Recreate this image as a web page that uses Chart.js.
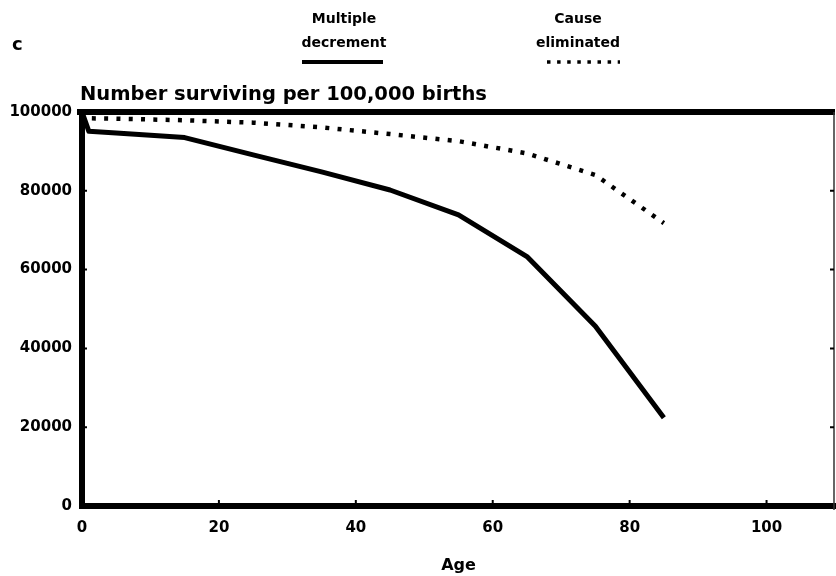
<!DOCTYPE html>
<html>
<head>
    <title>Number surviving per 100,000 births</title>
    <style type="text/css">
        body {
            margin: 0;
            background: #fff;
        }

        #chartContainer {
            width: 836px;
            height: 576px;
            position: relative;
        }
    </style>
</head>
<body>
    <div id="chartContainer">
        <canvas id="survivalChart"></canvas>
    </div>
    <script src="https://cdn.jsdelivr.net/npm/chart.js@4.4.1/dist/chart.umd.min.js"></script>
    <script>
        // ages of the life table rows
        var ages = [0, 1, 5, 15, 25, 35, 45, 55, 65, 75, 85];
        // survivors, all causes acting
        var multipleDecrement = [100000, 95100, 94700, 93500, 89100, 84800, 80200, 73900, 63300, 45600, 22400];
        // survivors, one cause taken out
        var causeEliminated = [100000, 98400, 98300, 97900, 97300, 96100, 94400, 92600, 89500, 84000, 71800];

        var xTicks = [0, 20, 40, 60, 80, 100];
        var yTicks = [0, 20000, 40000, 60000, 80000, 100000];

        var panelLetter = 'c';
        var yTitle = 'Number surviving per 100,000 births';
        var xTitle = 'Age';
        var legendSolid = ['Multiple', 'decrement'];
        var legendDotted = ['Cause', 'eliminated'];

        var FONT = "'DejaVu Sans', sans-serif";
        var INK = '#000';

        function toPoints(values) {
            return ages.map((age, i) => ({ x: age, y: values[i] }));
        }

        // frame, inner ticks, legend and headings
        var decorPlugin = {
            id: 'decor',
            afterDraw(chart) {
                var ctx = chart.ctx;
                var area = chart.chartArea;
                var xs = chart.scales.x;
                var ys = chart.scales.y;
                ctx.save();

                // thick top rule
                ctx.strokeStyle = INK;
                ctx.lineWidth = 6;
                ctx.beginPath();
                ctx.moveTo(area.left - 5, area.top);
                ctx.lineTo(area.right, area.top);
                ctx.stroke();

                // thin right rule
                ctx.lineWidth = 1.5;
                ctx.strokeStyle = '#333';
                ctx.beginPath();
                ctx.moveTo(area.right - 1, area.top);
                ctx.lineTo(area.right - 1, area.bottom + 4);
                ctx.stroke();

                // inner ticks
                ctx.strokeStyle = INK;
                ctx.lineWidth = 2;
                yTicks.forEach(v => {
                    if (v === 0 || v === 100000) return;
                    var py = ys.getPixelForValue(v);
                    ctx.beginPath();
                    ctx.moveTo(area.left, py);
                    ctx.lineTo(area.left + 5, py);
                    ctx.moveTo(area.right - 1, py);
                    ctx.lineTo(area.right - 5, py);
                    ctx.stroke();
                });
                xTicks.forEach(v => {
                    if (v === 0) return;
                    var px = xs.getPixelForValue(v);
                    ctx.beginPath();
                    ctx.moveTo(px, area.bottom);
                    ctx.lineTo(px, area.bottom - 6);
                    ctx.stroke();
                });

                ctx.fillStyle = INK;
                ctx.textBaseline = 'middle';

                // panel letter
                ctx.textAlign = 'left';
                ctx.font = 'bold 18px ' + FONT;
                ctx.fillText(panelLetter, 12, 45);

                // y heading
                ctx.textBaseline = 'alphabetic';
                ctx.font = 'bold 19.5px ' + FONT;
                ctx.fillText(yTitle, 80, 100);

                // legend
                ctx.textBaseline = 'middle';
                ctx.textAlign = 'center';
                ctx.font = 'bold 14px ' + FONT;
                ctx.fillText(legendSolid[0], 344, 19);
                ctx.fillText(legendSolid[1], 344, 43);
                ctx.fillText(legendDotted[0], 578, 19);
                ctx.fillText(legendDotted[1], 578, 43);

                ctx.lineWidth = 4;
                ctx.setLineDash([]);
                ctx.beginPath();
                ctx.moveTo(302, 62);
                ctx.lineTo(383, 62);
                ctx.stroke();

                ctx.lineWidth = 3.5;
                ctx.setLineDash([3.5, 6.6]);
                ctx.beginPath();
                ctx.moveTo(547, 62);
                ctx.lineTo(620, 62);
                ctx.stroke();

                ctx.restore();
            }
        };

        function createSurvivalChart() {
            var ctx = document.getElementById('survivalChart').getContext('2d');
            new Chart(ctx, {
                type: 'line',
                data: {
                    datasets: [
                        {
                            label: legendSolid.join(' '),
                            data: toPoints(multipleDecrement),
                            borderColor: INK,
                            borderWidth: 5,
                            borderJoinStyle: 'round',
                            pointRadius: 0,
                            tension: 0,
                            fill: false
                        },
                        {
                            label: legendDotted.join(' '),
                            data: toPoints(causeEliminated),
                            borderColor: INK,
                            borderWidth: 4.5,
                            borderDash: [4, 8.3],
                            borderCapStyle: 'butt',
                            pointRadius: 0,
                            tension: 0,
                            fill: false
                        }
                    ]
                },
                options: {
                    responsive: true,
                    maintainAspectRatio: false,
                    animation: false,
                    layout: {
                        padding: { top: 112, right: 1, left: 0, bottom: 0 }
                    },
                    scales: {
                        x: {
                            type: 'linear',
                            min: 0,
                            max: 110,
                            afterFit: s => { s.height = 70; },
                            afterBuildTicks: s => { s.ticks = xTicks.map(v => ({ value: v })); },
                            grid: { display: false, drawTicks: false },
                            border: { display: true, color: INK, width: 6 },
                            ticks: {
                                color: INK,
                                padding: 13,
                                maxRotation: 0,
                                font: { family: FONT, size: 15, weight: 'bold' }
                            },
                            title: {
                                display: true,
                                text: xTitle,
                                color: INK,
                                padding: { top: 0, bottom: 1 },
                                font: { family: FONT, size: 16, weight: 'bold' }
                            }
                        },
                        y: {
                            min: 0,
                            max: 100000,
                            afterFit: s => { s.width = 82; },
                            afterBuildTicks: s => { s.ticks = yTicks.map(v => ({ value: v })); },
                            grid: { display: false, drawTicks: false },
                            border: { display: true, color: INK, width: 6 },
                            ticks: {
                                color: INK,
                                padding: 10,
                                callback: v => String(v),
                                font: { family: FONT, size: 15, weight: 'bold' }
                            }
                        }
                    },
                    plugins: {
                        legend: { display: false },
                        title: { display: false },
                        tooltip: { enabled: false }
                    }
                },
                plugins: [decorPlugin]
            });
        }

        createSurvivalChart();
    </script>
</body>
</html>
